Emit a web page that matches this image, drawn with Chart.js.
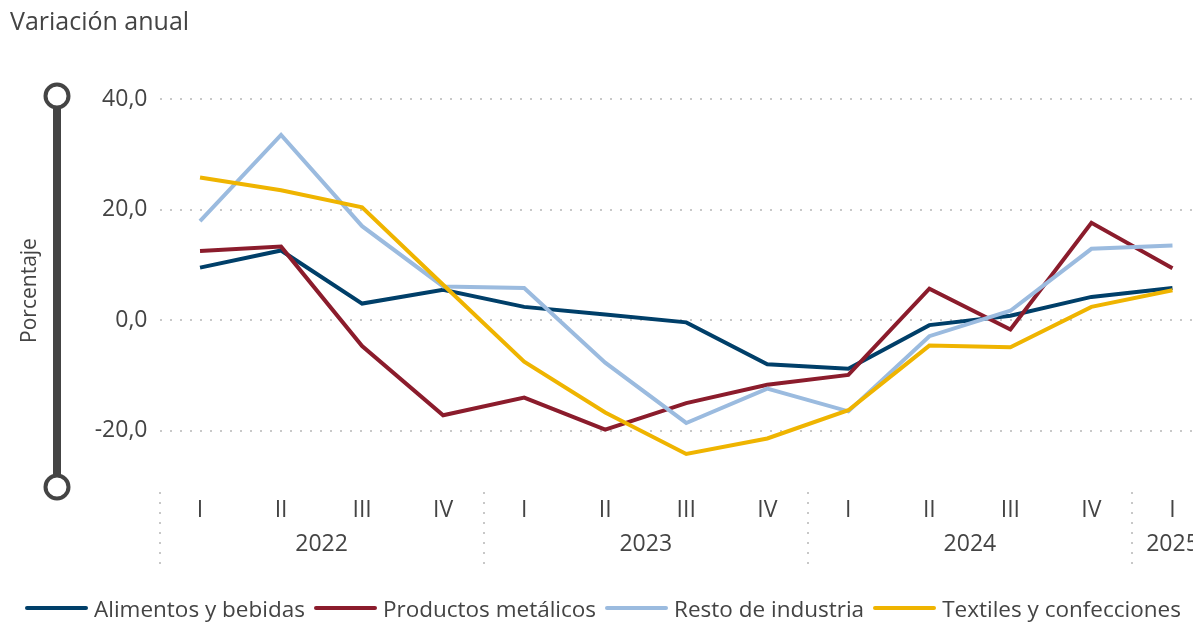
<!DOCTYPE html>
<html lang="es">
<head>
<meta charset="utf-8">
<title>Variación anual</title>
<script src="https://cdn.jsdelivr.net/npm/chart.js@4.4.1/dist/chart.umd.min.js"></script>
<style>
	html, body { margin: 0; padding: 0; background: #fff; overflow: hidden; }
	#wrap { position: relative; width: 1193px; height: 623px; overflow: hidden; }
	#chart { position: absolute; left: 0; top: 0; }
	#legend {
		position: absolute; left: 25px; top: 593px; height: 30px;
		display: flex; align-items: center; white-space: nowrap;
		font-family: 'Segoe UI', 'Open Sans', sans-serif; font-size: 22.5px; color: #444;
	}
	.lg-item { display: flex; align-items: center; margin-right: 9px; }
	.lg-line { width: 63px; height: 4px; border-radius: 2px; margin-right: 6px; }
</style>
</head>
<body>
<div id="wrap">
	<canvas id="chart" width="1213" height="623"></canvas>
	<div id="legend"></div>
</div>
<script>
( function () {
	'use strict';

	var FONT = "'Segoe UI', 'Open Sans', sans-serif";
	var TEXT = '#444';

	// Quarters on the x axis and the year each one belongs to.
	var quarters     = [ 'I', 'II', 'III', 'IV', 'I', 'II', 'III', 'IV', 'I', 'II', 'III', 'IV', 'I' ];
	var quarterYears = [ '2022', '2022', '2022', '2022', '2023', '2023', '2023', '2023', '2024', '2024', '2024', '2024', '2025' ];

	var seriesNames  = [ 'Alimentos y bebidas', 'Productos metálicos', 'Resto de industria', 'Textiles y confecciones' ];
	var seriesColors = [ '#003f69', '#8b1c2c', '#9bbbdf', '#efb400' ];

	// Variación anual (%)
	var alimentos = [ 9.5, 12.6, 3.0, 5.5, 2.4, 1.0, -0.4, -8.0, -8.8, -0.9, 0.8, 4.2, 5.8 ];
	var productos = [ 12.5, 13.3, -4.7, -17.2, -14.0, -19.8, -15.0, -11.7, -9.9, 5.7, -1.7, 17.6, 9.4 ];
	var resto     = [ 17.9, 33.5, 17.0, 6.1, 5.8, -7.7, -18.6, -12.4, -16.5, -2.9, 1.7, 12.9, 13.5 ];
	var textiles  = [ 25.8, 23.5, 20.4, 6.4, -7.5, -16.7, -24.2, -21.4, -16.3, -4.6, -4.9, 2.4, 5.4 ];

	var yTicks = [ -20, 0, 20, 40 ];
	var yMin = -30, yMax = 40;

	var seriesData = [ alimentos, productos, resto, textiles ];

	// Slider on the left, axis title, year labels and dotted year separators.
	var decorPlugin = {
		id: 'decor',
		afterDraw: function ( chart ) {
			var ctx  = chart.ctx;
			var area = chart.chartArea;
			var xs   = chart.scales.x;
			var sx   = 57;
			var top  = area.top - 3, bottom = area.bottom + 1;

			ctx.save();
			ctx.strokeStyle = '#444';
			ctx.lineWidth = 8;
			ctx.beginPath();
			ctx.moveTo( sx, top );
			ctx.lineTo( sx, bottom );
			ctx.stroke();
			[ top, bottom ].forEach( function ( cy ) {
				ctx.beginPath();
				ctx.arc( sx, cy, 11.5, 0, Math.PI * 2 );
				ctx.fillStyle = '#fff';
				ctx.fill();
				ctx.lineWidth = 4;
				ctx.stroke();
			} );

			// y axis title
			ctx.save();
			ctx.translate( 30, ( area.top + area.bottom ) / 2 - 2 );
			ctx.rotate( -Math.PI / 2 );
			ctx.fillStyle = TEXT;
			ctx.font = '21px ' + FONT;
			ctx.textAlign = 'center';
			ctx.textBaseline = 'middle';
			ctx.fillText( 'Porcentaje', 0, 0 );
			ctx.restore();

			// year groups
			var half = ( xs.getPixelForValue( 1 ) - xs.getPixelForValue( 0 ) ) / 2;
			var start = 0;
			ctx.font = '23px ' + FONT;
			ctx.fillStyle = TEXT;
			ctx.textAlign = 'center';
			ctx.textBaseline = 'middle';
			for ( var i = 1; i <= quarterYears.length; i++ ) {
				if ( i === quarterYears.length || quarterYears[ i ] !== quarterYears[ start ] ) {
					var x0 = xs.getPixelForValue( start ) - half;
					ctx.save();
					ctx.strokeStyle = '#c8c8c8';
					ctx.lineWidth = 2;
					ctx.setLineDash( [ 2, 8 ] );
					ctx.beginPath();
					ctx.moveTo( Math.round( x0 ), area.bottom + 6 );
					ctx.lineTo( Math.round( x0 ), area.bottom + 80 );
					ctx.stroke();
					ctx.restore();
					var cx = ( xs.getPixelForValue( start ) + xs.getPixelForValue( i - 1 ) ) / 2;
					ctx.fillText( quarterYears[ start ], cx, area.bottom + 58 );
					start = i;
				}
			}
			ctx.restore();
		},
	};

	var datasets = seriesNames.map( function ( name, i ) {
		return {
			label:           name,
			data:            seriesData[ i ],
			borderColor:     seriesColors[ i ],
			backgroundColor: seriesColors[ i ],
			borderWidth:     4,
			pointRadius:     0,
			tension:         0,
			order:           seriesNames.length - i,
		};
	} );

	new Chart( document.getElementById( 'chart' ), {
		type: 'line',
		data: { labels: quarters, datasets: datasets },
		plugins: [ decorPlugin ],
		options: {
			responsive: false,
			animation:  false,
			layout: { padding: { left: 10, right: 0, top: 0, bottom: 0 } },
			plugins: {
				legend:  { display: false },
				tooltip: { enabled: false },
				title: {
					display: true,
					text:    'Variación anual',
					align:   'start',
					color:   TEXT,
					font:    { family: FONT, size: 25, weight: 'normal', lineHeight: 1.2 },
					padding: { top: 8, bottom: 61 },
				},
			},
			scales: {
				x: {
					offset: true,
					border: { display: false },
					grid:   { display: false, drawTicks: false },
					ticks: {
						color:       TEXT,
						font:        { family: FONT, size: 23 },
						padding:     11,
						maxRotation: 0,
						autoSkip:    false,
					},
					afterFit: function ( scale ) { scale.height = 137; },
				},
				y: {
					min: yMin,
					max: yMax,
					border: { display: false, dash: [ 2, 8 ] },
					grid: {
						color:     '#c8c8c8',
						lineWidth: 2,
						drawTicks: false,
					},
					ticks: {
						color:   TEXT,
						font:    { family: FONT, size: 23 },
						padding: 12,
						callback: function ( v ) { return v.toFixed( 1 ).replace( '.', ',' ); },
					},
					afterBuildTicks: function ( scale ) {
						scale.ticks = yTicks.map( function ( v ) { return { value: v }; } );
					},
					afterFit: function ( scale ) { scale.width = 149.5; },
				},
			},
		},
	} );

	// HTML legend built from the series arrays
	var legend = document.getElementById( 'legend' );
	seriesNames.forEach( function ( name, i ) {
		var item = document.createElement( 'div' );
		item.className = 'lg-item';
		var line = document.createElement( 'span' );
		line.className = 'lg-line';
		line.style.background = seriesColors[ i ];
		var label = document.createElement( 'span' );
		label.textContent = name;
		item.appendChild( line );
		item.appendChild( label );
		legend.appendChild( item );
	} );
} )();
</script>
</body>
</html>
